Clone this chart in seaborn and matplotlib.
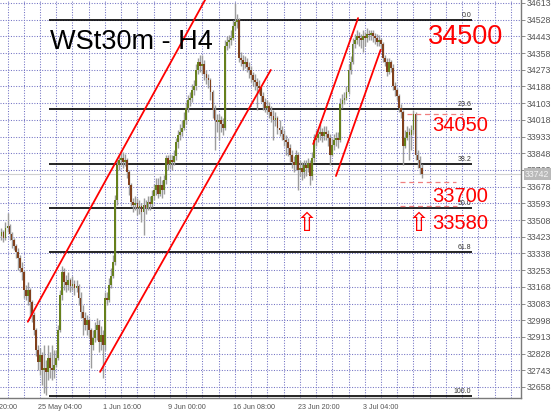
import numpy as np
import pandas as pd
import matplotlib
matplotlib.use("Agg")
import matplotlib.pyplot as plt
import seaborn as sns

sns.set_theme(style="white")
plt.rcParams["font.family"] = ["Liberation Sans", "DejaVu Sans"]

SYMBOL = "WSt30m - H4"

# H4 candles, one value per bar (open of a bar = close of the previous one)
FIRST_OPEN = 33427
CLOSES = [
    33447, 33417, 33468, 33478, 33437, 33406, 33376, 33345, 33315, 33264,
    33244, 33152, 33121, 33152, 33091, 33025, 32948, 32846, 32785, 32821,
    32745, 32755, 32735, 32806, 32755, 32745, 32770, 32806, 32948, 33126,
    33244, 33193, 33177, 33203, 33172, 33182, 33162, 33172, 33111, 33040,
    33009, 32974, 32999, 32948, 32872, 32908, 32948, 32974, 32887, 32923,
    32872, 33111, 33101, 33177, 33223, 33294, 33610, 33788, 33814, 33824,
    33803, 33814, 33753, 33686, 33600, 33585, 33595, 33569, 33579, 33549,
    33585, 33569, 33600, 33590, 33630, 33661, 33686, 33641, 33686, 33661,
    33712, 33824, 33793, 33814, 33803, 33834, 33905, 33941, 33956, 33976,
    34017, 34078, 34119, 34129, 34170, 34190, 34272, 34312, 34292, 34302,
    34251, 34231, 34221, 34160, 34068, 34017, 34007, 34017, 33997, 33976,
    34394, 34414, 34424, 34435, 34496, 34516, 34526, 34333, 34323, 34302,
    34312, 34287, 34272, 34246, 34221, 34211, 34190, 34180, 34139, 34109,
    34078, 34088, 34058, 34038, 34017, 34027, 33976, 33966, 33946, 33915,
    33905, 33875, 33839, 33803, 33788, 33839, 33763, 33773, 33753, 33788,
    33773, 33798, 33732, 33824, 33915, 33926, 33946, 33956, 33936, 33956,
    33946, 33926, 33839, 33890, 33915, 33926, 33915, 34099, 34119, 34129,
    34160, 34272, 34312, 34404, 34424, 34445, 34435, 34424, 34445, 34435,
    34455, 34450, 34460, 34445, 34435, 34414, 34424, 34404, 34333, 34312,
    34261, 34312, 34282, 34190, 34170, 34139, 34078, 34058, 33885, 33926,
    33956, 33941, 33966, 34048, 33839, 33814, 33773, 33742,
]
HIGHS = [
    33468, 33457, 33498, 33544, 33488, 33447, 33417, 33386, 33366, 33330,
    33294, 33254, 33177, 33193, 33162, 33101, 33040, 32958, 32872, 32857,
    32836, 32872, 32796, 32872, 32836, 32872, 32846, 32846, 32974, 33152,
    33274, 33264, 33228, 33244, 33213, 33223, 33203, 33203, 33182, 33142,
    33076, 33040, 33025, 33009, 32958, 32948, 32989, 33009, 32999, 32969,
    32948, 33142, 33142, 33213, 33264, 33330, 33636, 33814, 33839, 33865,
    33854, 33844, 33824, 33763, 33697, 33620, 33630, 33620, 33610, 33595,
    33620, 33610, 33630, 33630, 33661, 33691, 33722, 33722, 33732, 33712,
    33737, 33839, 33839, 33844, 33839, 33865, 33926, 33966, 33997, 34017,
    34058, 34109, 34144, 34160, 34200, 34221, 34302, 34333, 34348, 34348,
    34323, 34272, 34251, 34231, 34170, 34093, 34048, 34048, 34038, 34027,
    34424, 34445, 34450, 34475, 34526, 34613, 34557, 34536, 34363, 34348,
    34343, 34333, 34312, 34292, 34261, 34251, 34231, 34221, 34190, 34160,
    34129, 34119, 34109, 34088, 34068, 34058, 34038, 34017, 33987, 33966,
    33941, 33926, 33895, 33865, 33834, 33865, 33854, 33814, 33803, 33814,
    33814, 33824, 33814, 33854, 33946, 33966, 33976, 33997, 33976, 33987,
    33987, 33966, 33946, 33926, 33946, 33956, 33956, 34129, 34150, 34160,
    34190, 34302, 34343, 34435, 34455, 34475, 34465, 34455, 34475, 34465,
    34485, 34475, 34475, 34475, 34460, 34455, 34450, 34435, 34414, 34348,
    34333, 34333, 34323, 34302, 34211, 34180, 34150, 34099, 34068, 33966,
    33987, 33976, 33992, 34068, 34058, 33865, 33834, 33793,
]
LOWS = [
    33406, 33396, 33406, 33447, 33406, 33366, 33355, 33315, 33254, 33244,
    33203, 33111, 33101, 33076, 33009, 32989, 32923, 32816, 32745, 32719,
    32668, 32628, 32618, 32694, 32704, 32694, 32704, 32760, 32796, 32938,
    33101, 33152, 33142, 33152, 33142, 33152, 33126, 33142, 33076, 33009,
    32923, 32948, 32923, 32908, 32755, 32846, 32887, 32897, 32836, 32846,
    32704, 32846, 33076, 33091, 33162, 33213, 33279, 33585, 33763, 33788,
    33773, 33783, 33722, 33636, 33579, 33549, 33559, 33534, 33539, 33498,
    33432, 33539, 33559, 33559, 33574, 33610, 33636, 33620, 33630, 33620,
    33641, 33691, 33763, 33773, 33763, 33788, 33814, 33875, 33915, 33936,
    33966, 33997, 34058, 34088, 34109, 34144, 34170, 34251, 34261, 34251,
    34221, 34200, 34180, 34119, 34027, 33865, 33956, 33915, 33956, 33941,
    33966, 34374, 34384, 34399, 34424, 34475, 34485, 34312, 34292, 34272,
    34282, 34261, 34231, 34211, 34190, 34170, 34068, 34150, 34109, 34068,
    34058, 34048, 34027, 34007, 33915, 33987, 33946, 33936, 33915, 33885,
    33839, 33834, 33803, 33773, 33753, 33763, 33661, 33732, 33712, 33722,
    33732, 33753, 33686, 33712, 33803, 33885, 33905, 33915, 33905, 33915,
    33915, 33885, 33788, 33834, 33865, 33885, 33875, 33905, 34078, 34099,
    34119, 34150, 34251, 34302, 34384, 34404, 34394, 34384, 34363, 34394,
    34414, 34424, 34424, 34414, 34404, 34394, 34394, 34374, 34312, 34292,
    34241, 34251, 34261, 34170, 34139, 34119, 34058, 34027, 33788, 33875,
    33915, 33814, 33865, 33946, 33814, 33773, 33742, 33722,
]
BID = 33742

DATE_BARS = [-13, 19, 51, 83, 115, 147, 179]
DATE_LABELS = ["18 May 20:00", "25 May 04:00", "1 Jun 16:00", "9 Jun 00:00",
               "16 Jun 08:00", "23 Jun 20:00", "3 Jul 04:00"]
PRICE_TICKS = [34613, 34528, 34443, 34358, 34273, 34188, 34103, 34018, 33933,
               33848, 33763, 33678, 33593, 33508, 33423, 33338, 33253, 33168,
               33083, 32998, 32913, 32828, 32743, 32658]

# Fibonacci retracement
FIB_HIGH, FIB_LOW = 34525, 32612
FIB_RATIOS = [0.0, 23.6, 38.2, 50.0, 61.8, 100.0]
FIB_FROM, FIB_TO = 23.4, 231.8

# red trend channels: (bar, price) end points
CHANNEL_BARS = [[13, 105], [48.6, 132.7], [153.6, 175.7], [164.8, 186.8]]
CHANNEL_PRICES = [[32990, 34716], [32735, 34272], [33895, 34536], [33732, 34374]]

# dashed target levels
LEVELS = [34050, 33700, 33580]
LEVEL_FROM = [199.8, 196.3, 196.3]
LEVEL_TO = [227.4, 223.9, 224.4]

NOTE_TEXT = ["34500", "34050", "33700", "33580"]
NOTE_BAR = [210.3, 212.1, 212.1, 212.1]
NOTE_PRICE = [34440, 33987, 33630, 33488]
NOTE_SIZE = [19.5, 14.5, 14.5, 14.5]
ARROW_BAR = [150.5, 205.7]
ARROW_PRICE = 33490

BULL, BEAR, WICK = "#66801C", "#80401C", "#9C9C9C"
GRID = "#7373C4"

n = len(CLOSES)
idx = np.arange(n)
closes = np.array(CLOSES, float)
opens = np.concatenate([[FIRST_OPEN], closes[:-1]])
highs = np.array(HIGHS, float)
lows = np.array(LOWS, float)

fig = plt.figure(figsize=(5.54, 4.15), dpi=100)
ax = fig.add_axes([0, 17 / 415, 521 / 554, 398 / 415])
ax.set_xlim(-0.7, 255.97)
ax.set_ylim(32602, 34628)

# grid
for gx in range(3, 256, 8):
    ax.axvline(gx, color=GRID, lw=0.75, ls=(0, (1, 1.5)), zorder=0)
for gy in PRICE_TICKS:
    ax.axhline(gy, color=GRID, lw=0.75, ls=(0, (1, 1.5)), zorder=0)

# bid line
ax.axhline(BID, color="#D0D0D0", lw=0.8, zorder=1)

# fibonacci levels
span = FIB_HIGH - FIB_LOW
for r in FIB_RATIOS:
    lvl = FIB_HIGH - span * r / 100
    ax.hlines(lvl, FIB_FROM, FIB_TO, color="black", lw=1.2, zorder=2)
    ax.text(FIB_TO - 0.4, lvl + 6, f"{r:.1f}", ha="right", va="bottom",
            fontsize=5, color="#333333", zorder=6)

# candles
ax.vlines(idx, lows, highs, color=WICK, lw=1.0, zorder=3)
body_lo = np.minimum(opens, closes)
body_h = np.maximum(np.abs(closes - opens), 5)
colors = [BULL if c >= o else BEAR for o, c in zip(opens, closes)]
ax.bar(idx, body_h, bottom=body_lo, width=0.9, color=colors, lw=0, zorder=4)

# trend channels
chan = pd.DataFrame({
    "bar": [b for pair in CHANNEL_BARS for b in pair],
    "price": [p for pair in CHANNEL_PRICES for p in pair],
    "line": [k for k in range(len(CHANNEL_BARS)) for _ in range(2)],
})
sns.lineplot(data=chan, x="bar", y="price", units="line", estimator=None,
             color="#FF0000", lw=1.3, ax=ax, zorder=5)

# target levels
for lvl, a, b in zip(LEVELS, LEVEL_FROM, LEVEL_TO):
    ax.hlines(lvl, a, b, color="#F08080", lw=0.9, ls=(0, (4, 3)), zorder=5)

for t, b, p, s in zip(NOTE_TEXT, NOTE_BAR, NOTE_PRICE, NOTE_SIZE):
    ax.text(b, p, t, ha="left", va="center", fontsize=s, color="#FF0000", zorder=7)
for b in ARROW_BAR:
    ax.text(b, ARROW_PRICE, "\u21e7", ha="center", va="center", fontsize=19,
            color="#FF0000", family=["DejaVu Sans"], zorder=7)

ax.text(24, 34414, SYMBOL, ha="left", va="center", fontsize=19.5,
        color="black", zorder=7)

# axes styling
for side in ["left", "top"]:
    ax.spines[side].set_visible(False)
for side in ["right", "bottom"]:
    ax.spines[side].set_color("#7A7A7A")
    ax.spines[side].set_linewidth(1)
ax.set_xticks([])
ax.yaxis.tick_right()
ax.set_yticks(PRICE_TICKS)
ax.set_yticklabels([str(v) for v in PRICE_TICKS])
ax.tick_params(axis="y", length=3, width=0.6, color="#7A7A7A", pad=1,
               labelsize=6.3, labelcolor="#555555")
ax.set_xlabel("")
ax.set_ylabel("")

for b, lab in zip(DATE_BARS, DATE_LABELS):
    ax.text(b - 1, 32602 - 50, lab, ha="left", va="center", fontsize=5.2,
            color="#555555", clip_on=False)

ax.annotate(str(BID), xy=(1.0, BID), xycoords=("axes fraction", "data"),
            xytext=(3, 0), textcoords="offset points", ha="left", va="center",
            fontsize=6.3, color="#F4F4F4", zorder=8, annotation_clip=False,
            bbox=dict(boxstyle="square,pad=0.15", fc="#B9B9B9", ec="none"))

fig.savefig("out.png", dpi=100)
